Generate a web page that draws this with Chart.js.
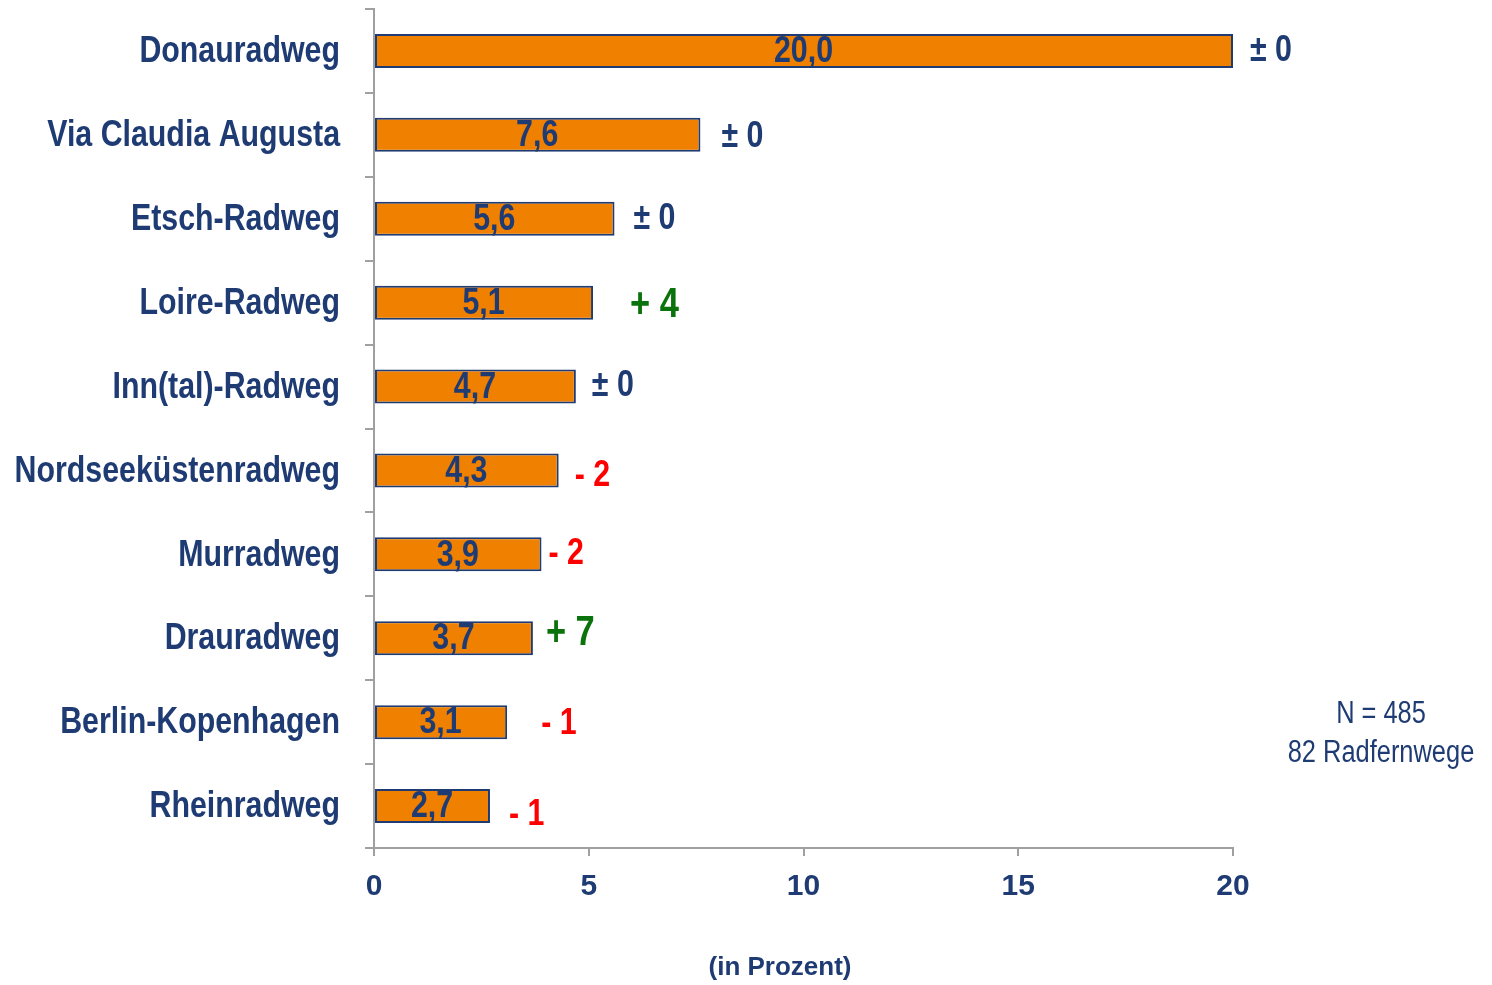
<!DOCTYPE html>
<html>
<head>
<meta charset="utf-8">
<script src="https://cdn.jsdelivr.net/npm/chart.js@4"></script>
<style>
  html, body { margin: 0; padding: 0; background: #ffffff; }
  #wrap { width: 1492px; height: 985px; }
</style>
</head>
<body>
<div id="wrap"><canvas id="c" width="1492" height="985"></canvas></div>
<script>
// ---- data ----
const categories = ["Donauradweg", "Via Claudia Augusta", "Etsch-Radweg", "Loire-Radweg", "Inn(tal)-Radweg",
                    "Nordseeküstenradweg", "Murradweg", "Drauradweg", "Berlin-Kopenhagen", "Rheinradweg"];
const values = [20.0, 7.6, 5.6, 5.1, 4.7, 4.3, 3.9, 3.7, 3.1, 2.7];
const changes = ["± 0", "± 0", "± 0", "+ 4", "± 0", "- 2", "- 2", "+ 7", "- 1", "- 1"];
const xTicks = [0, 5, 10, 15, 20];
const axisTitle = "(in Prozent)";
const noteLines = ["N = 485", "82 Radfernwege"];

// ---- label placement (style only) ----
const changeGap = [17, 21, 19, 37, 16, 16, 7, 13, 34, 19];
const changeDy  = [0, 2, 0, 3, -1, 5, -1, -5, 2, 9];

const NAVY = "#1F3B73";
const GREEN = "#0B730B";
const RED = "#FF0000";
const SANS = "'Liberation Sans', Arial, sans-serif";
const SX = 0.82; // horizontal compression to imitate a narrow face

function changeColor(s) {
  if (s.startsWith("+")) return GREEN;
  if (s.startsWith("-")) return RED;
  return NAVY;
}

function narrowText(ctx, text, x, y, align, font, color) {
  ctx.save();
  ctx.font = font;
  ctx.fillStyle = color;
  ctx.textAlign = align;
  ctx.textBaseline = "middle";
  ctx.translate(x, y);
  ctx.scale(SX, 1);
  ctx.fillText(text, 0, 0);
  ctx.restore();
}

const annot = {
  id: "annot",
  afterDatasetsDraw(chart) {
    const ctx = chart.ctx;
    const meta = chart.getDatasetMeta(0);
    const xs = chart.scales.x;
    const ys = chart.scales.y;
    meta.data.forEach((bar, i) => {
      // category label
      narrowText(ctx, categories[i], ys.right - 9 - 25, ys.getPixelForValue(i) + 1, "right",
                 "bold 37px " + SANS, NAVY);
      // value inside bar
      const left = xs.getPixelForValue(0);
      const cx = (left + bar.x) / 2;
      narrowText(ctx, values[i].toFixed(1).replace(".", ","), cx, bar.y + 1, "center",
                 "bold 37px " + SANS, NAVY);
      // change annotation
      const s = changes[i];
      const big = s.startsWith("+");
      narrowText(ctx, s, bar.x + changeGap[i], bar.y + changeDy[i], "left",
                 "bold " + (big ? 42 : 37) + "px " + SANS, changeColor(s));
    });
    ctx.save();
    ctx.fillStyle = NAVY;
    ctx.font = "bold 26px " + SANS;
    ctx.textAlign = "center";
    ctx.textBaseline = "middle";
    ctx.fillText(axisTitle, 780, 968);
    ctx.restore();
    narrowText(ctx, noteLines[0], 1381, 714, "center", "31px " + SANS, NAVY);
    narrowText(ctx, noteLines[1], 1381, 753, "center", "31px " + SANS, NAVY);
  }
};

new Chart(document.getElementById("c"), {
  type: "bar",
  data: {
    labels: categories,
    datasets: [{
      data: values,
      backgroundColor: "#F08000",
      borderColor: "#1F3B73",
      borderWidth: 2,
      borderSkipped: false,
      barPercentage: 0.405,
      categoryPercentage: 1.0
    }]
  },
  options: {
    indexAxis: "y",
    responsive: false,
    animation: false,
    devicePixelRatio: 1,
    layout: { padding: { top: 9, right: 259, left: 0, bottom: 0 } },
    plugins: { legend: { display: false }, tooltip: { enabled: false } },
    scales: {
      x: {
        min: 0, max: 20,
        afterBuildTicks(scale) { scale.ticks = xTicks.map(v => ({ value: v })); },
        afterFit(scale) { scale.height = 137; scale.paddingLeft = 0; scale.paddingRight = 0; },
        border: { color: "#A0A0A0", width: 2 },
        grid: { drawOnChartArea: false, drawTicks: true, tickLength: 8, color: "#A0A0A0", lineWidth: 2 },
        ticks: { color: NAVY, font: { family: SANS, size: 30, weight: "bold" }, padding: 13, maxRotation: 0 }
      },
      y: {
        afterFit(scale) { scale.width = 374; scale.paddingTop = 0; scale.paddingBottom = 0; },
        border: { color: "#A0A0A0", width: 2 },
        grid: { drawOnChartArea: false, drawTicks: true, tickLength: 9, color: "#A0A0A0", lineWidth: 2, offset: true },
        ticks: { color: "rgba(0,0,0,0)", font: { family: SANS, size: 20, weight: "bold" }, padding: 25 }
      }
    }
  },
  plugins: [annot]
});
</script>
</body>
</html>
